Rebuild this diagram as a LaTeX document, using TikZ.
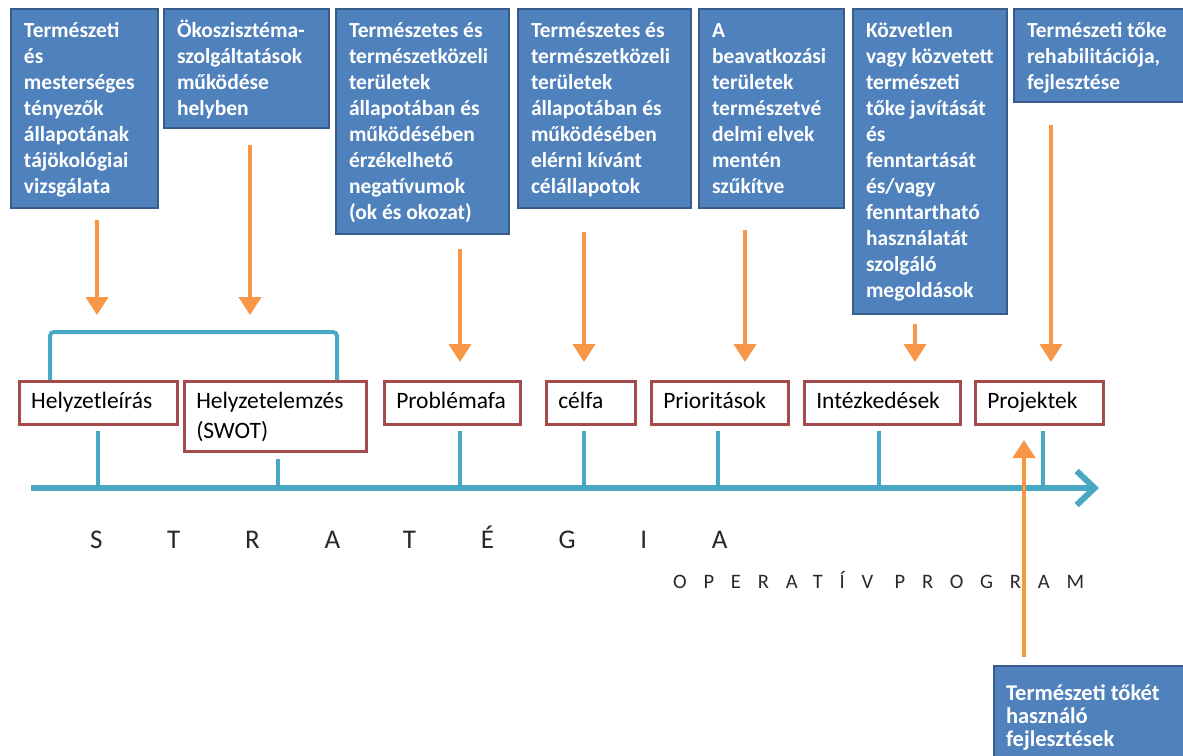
\documentclass[tikz,border=0pt]{standalone}
\usepackage{fontspec}
\setmainfont{Carlito}
\usetikzlibrary{arrows.meta,calc}
\definecolor{bfill}{RGB}{79,129,189}
\definecolor{bline}{RGB}{56,93,138}
\definecolor{rline}{RGB}{165,75,75}
\definecolor{tealc}{RGB}{75,168,196}
\definecolor{orng}{RGB}{247,150,70}
\definecolor{txtgray}{RGB}{40,40,40}
\newcommand{\btext}[3]{\parbox[c][#2][t]{#1}{\fontsize{21.5}{26}\bfseries\selectfont\color{white}\leftskip=13pt\rightskip=0pt plus 1fil\rule{0pt}{28pt}#3}}
\newcommand{\rtext}[3]{\parbox[c][#2][t]{#1}{\fontsize{23.5}{30}\selectfont\leftskip=12pt\rightskip=0pt plus 1fil\rule{0pt}{27pt}#3}}
\tikzset{
  bluebox/.style={draw=bline, fill=bfill, line width=2pt, inner sep=0pt, anchor=north west},
  redbox/.style={draw=rline, fill=white, line width=2.5pt, inner sep=0pt, anchor=north west},
  oarrow/.style={draw=orng, line width=4pt, -{Triangle[length=18pt,width=22pt]}},
  tickline/.style={draw=tealc, line width=3.5pt},
  axisline/.style={draw=tealc, line width=6pt, -{Straight Barb[length=18pt,width=34pt]}},
  bracketline/.style={draw=tealc, line width=4pt, rounded corners=4pt},
}
\begin{document}
\begin{tikzpicture}[x=1pt,y=-1pt]
\useasboundingbox[fill=white] (0,0) rectangle (1183,755);
% blue boxes
\node[bluebox] (b1) at (10,8) {\btext{147pt}{199pt}{Természeti\\és\\mesterséges\\tényezők\\állapotának\\tájökológiai\\vizsgálata}};
\node[bluebox] (b2) at (163,8) {\btext{165pt}{119pt}{Ökoszisztéma-\\szolgáltatások\\működése\\helyben}};
\node[bluebox] (b3) at (335,8) {\btext{173pt}{225pt}{Természetes és\\természetközeli\\területek\\állapotában és\\működésében\\érzékelhető\\negatívumok\\(ok és okozat)}};
\node[bluebox] (b4) at (517,8) {\btext{173pt}{199pt}{Természetes és\\természetközeli\\területek\\állapotában és\\működésében\\elérni kívánt\\célállapotok}};
\node[bluebox] (b5) at (698,8) {\btext{145pt}{199pt}{A\\beavatkozási\\területek\\természetvé\\delmi elvek\\mentén\\szűkítve}};
\node[bluebox] (b6) at (852,8) {\btext{154pt}{305pt}{Közvetlen\\vagy közvetett\\természeti\\tőke javítását\\és\\fenntartását\\és/vagy\\fenntartható\\használatát\\szolgáló\\megoldások}};
\node[bluebox] (b7) at (1013,8) {\btext{180pt}{93pt}{Természeti tőke\\rehabilitációja,\\fejlesztése}};
\node[bluebox] (b8) at (993,665) {\parbox[c][100pt][t]{200pt}{\fontsize{22.5}{23}\bfseries\selectfont\color{white}\leftskip=12pt\rightskip=0pt plus 1fil\rule{0pt}{34pt}Természeti tőkét\\használó\\fejlesztések}};
% red boxes
\node[redbox] (r1) at (18,380) {\rtext{158pt}{43pt}{Helyzetleírás}};
\node[redbox] (r2) at (183,380) {\rtext{182pt}{70pt}{Helyzetelemzés\\(SWOT)}};
\node[redbox] (r3) at (383,380) {\rtext{136pt}{43pt}{Problémafa}};
\node[redbox] (r4) at (545,380) {\rtext{89pt}{43pt}{célfa}};
\node[redbox] (r5) at (650,380) {\rtext{137pt}{43pt}{Prioritások}};
\node[redbox] (r6) at (803,380) {\rtext{156pt}{43pt}{Intézkedések}};
\node[redbox] (r7) at (974,380) {\rtext{128pt}{43pt}{Projektek}};
% bracket
\draw[bracketline] ($(r1.north west)+(32,0)$) -- ++(0,-48) -| ($(r2.north west)+(154,0)$);
% axis
\coordinate (ax0) at (31,488);
\coordinate (ax1) at (1099,488);
\draw[axisline] (ax0) -- (ax1);
\coordinate (k1) at (98,488);
\coordinate (k2) at (278,488);
\coordinate (k3) at (460,488);
\coordinate (k4) at (584,488);
\coordinate (k5) at (718,488);
\coordinate (k6) at (879,488);
\coordinate (k7) at (1043,488);
\draw[tickline] ($(r1.south -| k1)+(0,5)$) -- (k1);
\draw[tickline] ($(r2.south -| k2)+(0,6)$) -- (k2);
\draw[tickline] ($(r3.south -| k3)+(0,5)$) -- (k3);
\draw[tickline] ($(r4.south -| k4)+(0,5)$) -- (k4);
\draw[tickline] ($(r5.south -| k5)+(0,5)$) -- (k5);
\draw[tickline] ($(r6.south -| k6)+(0,5)$) -- (k6);
\draw[tickline] ($(r7.south -| k7)+(0,5)$) -- (k7);
% orange arrows
\coordinate (t1) at (97,315);
\coordinate (t2) at (250,315);
\coordinate (t3) at (460,362);
\coordinate (t4) at (584,362);
\coordinate (t5) at (745,362);
\coordinate (t6) at (915,362);
\coordinate (t7) at (1051,362);
\coordinate (t8) at (1024,440);
\draw[oarrow] ($(b1.south -| t1)+(0,11)$) -- (t1);
\draw[oarrow] ($(b2.south -| t2)+(0,16)$) -- (t2);
\draw[oarrow] ($(b3.south -| t3)+(0,14)$) -- (t3);
\draw[oarrow] ($(b4.south -| t4)+(0,23)$) -- (t4);
\draw[oarrow] ($(b5.south -| t5)+(0,21)$) -- (t5);
\draw[oarrow] ($(b6.south -| t6)+(0,9)$) -- (t6);
\draw[oarrow] ($(b7.south -| t7)+(0,22)$) -- (t7);
\draw[oarrow] ($(b8.north -| t8)+(0,-8)$) -- (t8);
% labels
\node[anchor=base west, inner sep=0pt, text=txtgray, font=\fontsize{27}{30}\selectfont\addfontfeature{LetterSpace=240}] (strat) at (90,548) {STRATÉGIA};
\node[anchor=base west, inner sep=0pt, text=txtgray, font=\fontsize{20.5}{24}\selectfont\addfontfeature{LetterSpace=82}] (op) at (673,588) {OPERATÍV PROGRAM};
\end{tikzpicture}
\end{document}
